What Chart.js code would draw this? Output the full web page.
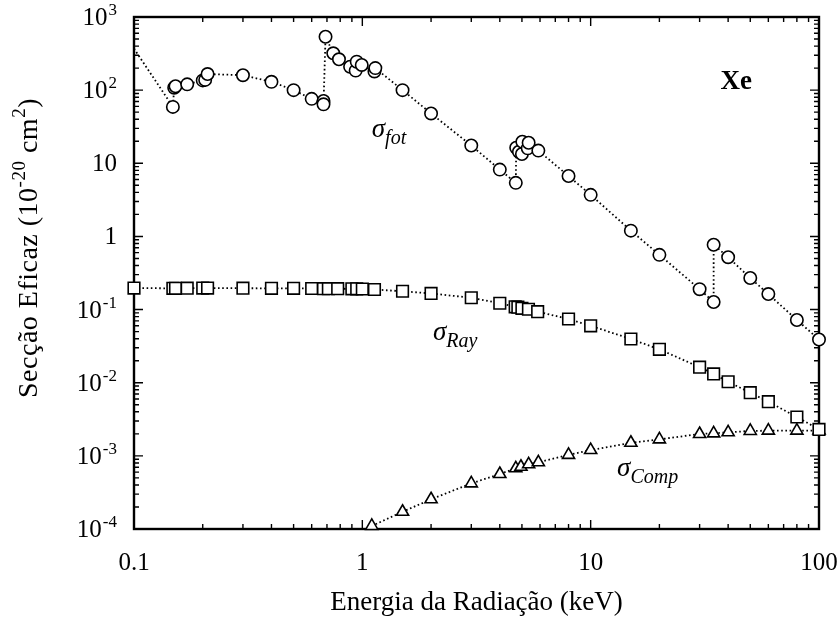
<!DOCTYPE html>
<html>
<head>
<meta charset="utf-8">
<script src="https://cdn.jsdelivr.net/npm/chart.js@4.4.1/dist/chart.umd.min.js"></script>
<style>
  body { margin: 0; background: #fff; }
  canvas { display: block; }
</style>
</head>
<body>
<canvas id="xeChart" width="840" height="624"></canvas>
<script>
// energias (keV) e secções eficazes (10^-20 cm^2) para o Xe
const fotE = [0.1, 0.148, 0.15, 0.152, 0.171, 0.2, 0.205, 0.21, 0.3, 0.4, 0.5, 0.6, 0.676, 0.676, 0.69,
  0.746, 0.79, 0.884, 0.935, 0.945, 0.994, 1.13, 1.14, 1.5, 2, 3, 4, 4.7, 4.72, 4.85, 5.0, 5.02, 5.3, 5.35,
  5.9, 8, 10, 15, 20, 30, 34.56, 34.56, 40, 50, 60, 80, 100];
const fotV = [370, 59, 108, 113, 120, 136, 138, 166, 160, 130, 100, 76, 71, 64, 537,
  319, 264, 209, 185, 245, 221, 180, 200, 100, 48, 17.5, 8.2, 5.4, 16.3, 14.4, 13.4, 19.7, 16.0, 19.1,
  14.9, 6.7, 3.7, 1.2, 0.56, 0.19, 0.127, 0.77, 0.52, 0.27, 0.163, 0.072, 0.039];

const rayE = [0.1, 0.148, 0.152, 0.171, 0.2, 0.21, 0.3, 0.4, 0.5, 0.6, 0.676, 0.71, 0.78, 0.9, 0.945,
  1.0, 1.13, 1.5, 2, 3, 4, 4.67, 4.8, 5.0, 5.34, 5.86, 8, 10, 15, 20, 30, 34.56, 40, 50, 60, 80, 100];
const rayV = [0.197, 0.195, 0.195, 0.196, 0.197, 0.197, 0.196, 0.195, 0.195, 0.194, 0.193, 0.193, 0.193, 0.192, 0.192,
  0.191, 0.188, 0.178, 0.166, 0.145, 0.122, 0.109, 0.108, 0.104, 0.101, 0.0935, 0.0743, 0.060, 0.0396, 0.0286,
  0.0163, 0.0132, 0.0103, 0.0073, 0.0055, 0.0034, 0.0023];

const compE = [1.1, 1.5, 2, 3, 4, 4.7, 4.95, 5.35, 5.9, 8, 10, 15, 20, 30, 34.56, 40, 50, 60, 80, 100];
const compV = [1.1e-4, 1.72e-4, 2.55e-4, 4.2e-4, 5.65e-4, 6.76e-4, 7.1e-4, 7.67e-4, 8.17e-4, 1.03e-3,
  1.2e-3, 1.51e-3, 1.68e-3, 1.99e-3, 2.03e-3, 2.1e-3, 2.19e-3, 2.21e-3, 2.21e-3, 2.22e-3];

// eixos
const xTicks = [0.1, 1, 10, 100];
const xTickLabels = ['0.1', '1', '10', '100'];
const yTicks = [1e-4, 1e-3, 1e-2, 1e-1, 1, 10, 100, 1000];
const yTickLabels = [['10', '-4'], ['10', '-3'], ['10', '-2'], ['10', '-1'], ['1', ''], ['10', ''], ['10', '2'], ['10', '3']];

// etiquetas [símbolo, índice, energia, valor]
const curveLabels = [
  ['σ', 'fot', 1.10, 22.9],
  ['σ', 'Ray', 2.04, 0.0384],
  ['σ', 'Comp', 13.05, 5.3e-4]
];
const elementLabel = ['Xe', 43.4, 104];

const FONT = '"Liberation Serif", "Times New Roman", serif';

const pts = (xs, ys) => xs.map((x, i) => ({ x: x, y: ys[i] }));

// moldura com marcas para dentro nos quatro lados
const frame = {
  id: 'frame',
  beforeDatasetsDraw(chart) {
    const { ctx, chartArea: a, scales: { x, y } } = chart;
    ctx.save();
    ctx.strokeStyle = '#000';
    ctx.lineWidth = 1.4;
    ctx.beginPath();
    for (let d = -1; d < 2; d++) {
      for (let m = 1; m < 10; m++) {
        const px = x.getPixelForValue(m * Math.pow(10, d));
        const len = m === 1 ? 9 : 5;
        ctx.moveTo(px, a.bottom); ctx.lineTo(px, a.bottom - len);
        ctx.moveTo(px, a.top); ctx.lineTo(px, a.top + len);
      }
    }
    for (let d = -4; d < 3; d++) {
      for (let m = 1; m < 10; m++) {
        const py = y.getPixelForValue(m * Math.pow(10, d));
        const len = m === 1 ? 9 : 5;
        ctx.moveTo(a.left, py); ctx.lineTo(a.left + len, py);
        ctx.moveTo(a.right, py); ctx.lineTo(a.right - len, py);
      }
    }
    ctx.stroke();
    ctx.lineWidth = 2.4;
    ctx.strokeRect(a.left, a.top, a.right - a.left, a.bottom - a.top);
    ctx.restore();
  },
  afterDraw(chart) {
    const { ctx, chartArea: a, scales: { x, y } } = chart;
    ctx.save();
    ctx.fillStyle = '#000';

    // valores do eixo x
    ctx.font = '25px ' + FONT;
    ctx.textAlign = 'center';
    ctx.textBaseline = 'middle';
    xTicks.forEach((v, i) => ctx.fillText(xTickLabels[i], x.getPixelForValue(v), a.bottom + 34));

    // valores do eixo y com expoente
    ctx.textBaseline = 'alphabetic';
    ctx.textAlign = 'left';
    yTicks.forEach((v, i) => {
      const [base, exp] = yTickLabels[i];
      ctx.font = '25px ' + FONT;
      const wb = ctx.measureText(base).width;
      ctx.font = '17px ' + FONT;
      const we = exp ? ctx.measureText(exp).width + 1 : 0;
      const right = a.left - 17;
      const py = y.getPixelForValue(v) + 8;
      ctx.font = '25px ' + FONT;
      ctx.fillText(base, right - wb - we, py);
      if (exp) {
        ctx.font = '17px ' + FONT;
        ctx.fillText(exp, right - we + 1, py - 10);
      }
    });

    // título do eixo x
    ctx.font = '27px ' + FONT;
    ctx.textAlign = 'center';
    ctx.fillText('Energia da Radiação (keV)', (a.left + a.right) / 2, a.bottom + 81);

    // título do eixo y (rodado)
    ctx.letterSpacing = '0.5px';
    ctx.translate(37, 248);
    ctx.rotate(-Math.PI / 2);
    const parts = [['Secção Eficaz (10', 28, 0], ['-20', 19, -12], [' cm', 28, 0], ['2', 19, -12], [')', 28, 0]];
    let total = 0;
    parts.forEach(p => { ctx.font = p[1] + 'px ' + FONT; total += ctx.measureText(p[0]).width; });
    let cx = -total / 2;
    ctx.textAlign = 'left';
    parts.forEach(p => {
      ctx.font = p[1] + 'px ' + FONT;
      ctx.fillText(p[0], cx, p[2]);
      cx += ctx.measureText(p[0]).width;
    });
    ctx.setTransform(1, 0, 0, 1, 0, 0);
    ctx.letterSpacing = '0px';

    // nomes das curvas
    curveLabels.forEach(([sym, sub, e, v]) => {
      const px = x.getPixelForValue(e);
      const py = y.getPixelForValue(v);
      ctx.font = 'italic 27px ' + FONT;
      ctx.fillText(sym, px, py);
      const w = ctx.measureText(sym).width;
      ctx.font = 'italic 20px ' + FONT;
      ctx.fillText(sub, px + w, py + 7);
    });

    ctx.font = 'bold 27px ' + FONT;
    ctx.textAlign = 'center';
    ctx.fillText(elementLabel[0], x.getPixelForValue(elementLabel[1]), y.getPixelForValue(elementLabel[2]));
    ctx.restore();
  }
};

const lineStyle = {
  borderColor: '#000',
  borderWidth: 1.8,
  borderDash: [1.6, 2.6],
  backgroundColor: '#fff',
  pointBorderColor: '#000',
  pointBackgroundColor: '#fff',
  pointBorderWidth: 1.6,
  tension: 0,
  fill: false,
  clip: false
};

const ctx = document.getElementById('xeChart');
new Chart(ctx, {
  type: 'line',
  data: {
    datasets: [
      Object.assign({
        label: 'fot',
        data: pts(fotE, fotV),
        pointStyle: 'circle',
        pointRadius: fotE.map((e, i) => i === 0 ? 0 : 6.2),
        order: 1
      }, lineStyle),
      Object.assign({
        label: 'Ray',
        data: pts(rayE, rayV),
        pointStyle: 'rect',
        pointRadius: 8.2,
        order: 2
      }, lineStyle),
      Object.assign({
        label: 'Comp',
        data: pts(compE, compV),
        pointStyle: 'triangle',
        pointRadius: 7,
        order: 3
      }, lineStyle)
    ]
  },
  options: {
    responsive: false,
    animation: false,
    layout: { padding: { left: 134, right: 21, top: 17, bottom: 95 } },
    plugins: { legend: { display: false }, tooltip: { enabled: false } },
    scales: {
      x: { type: 'logarithmic', min: 0.1, max: 100, display: false },
      y: { type: 'logarithmic', min: 1e-4, max: 1e3, display: false }
    }
  },
  plugins: [frame]
});
</script>
</body>
</html>
